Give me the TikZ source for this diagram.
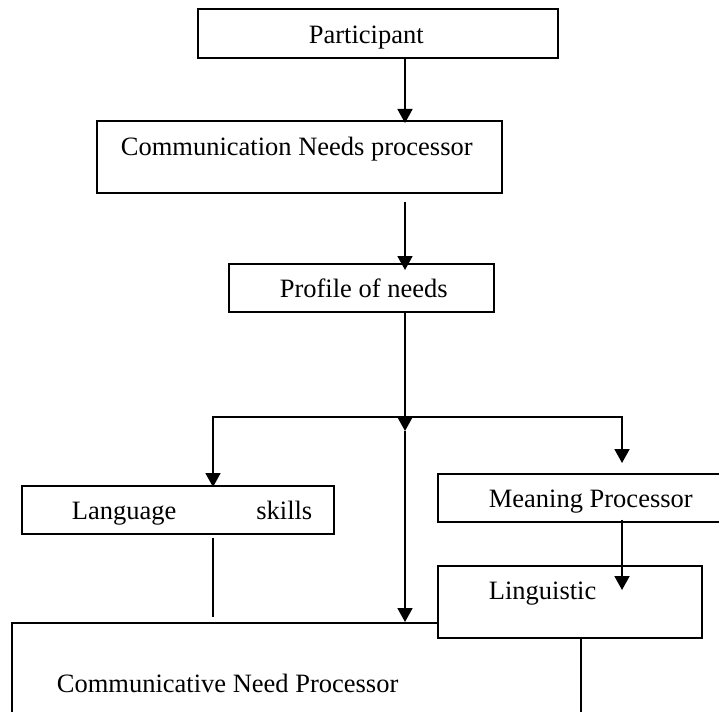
\documentclass[tikz,border=0pt]{standalone}
\usepackage{fontspec}
\setmainfont{Liberation Serif}
\usetikzlibrary{arrows.meta}

\tikzset{
  box/.style={draw, line width=1.7pt, fill=white, inner sep=0pt, anchor=north west,
    align=justify, font=\fontsize{26.5}{32}\selectfont},
  arr/.style={line width=1.8pt, -{Triangle[width=15pt, length=14pt]}},
  link/.style={line width=1.4pt}
}

\begin{document}
\begin{tikzpicture}[x=1pt, y=-1pt]

  \useasboundingbox (0,0) rectangle (719,711);
  \clip (0,0) rectangle (719,711);

  % Top chain of processors
  \node[box, text width=360pt, text height=35pt, text depth=14pt] (part) at (197,8) {\hspace*{111pt}Participant};
  \node[box, text width=405pt, text height=35pt, text depth=37pt] (comm) at (96,120) {\hspace*{24pt}Communication Needs processor};
  \node[box, text width=265pt, text height=34pt, text depth=14pt] (prof) at (228,263) {\hspace*{51pt}Profile of needs};

  % Branch boxes
  \node[box, text width=312pt, text height=34pt, text depth=14pt] (lang) at (21,485) {\hspace*{50pt}Language\hspace{80pt}skills};
  \node[box, text width=300pt, text height=34pt, text depth=14pt] (mean) at (437,473) {\hspace*{51pt}Meaning Processor};

  % Bottom box (runs off the page), Linguistic sits on top of it
  \node[box, text width=569pt, text height=70pt, text depth=90pt] (cnp) at (11,622) {\hspace*{45pt}Communicative Need Processor};
  \node[box, text width=264pt, text height=34pt, text depth=38pt] (ling) at (437,565) {\hspace*{51pt}Linguistic};

  % Branch points
  \coordinate (junc) at (405,417);
  \coordinate (split) at (405,431);
  \coordinate (lbranch) at (213,0);
  \coordinate (rtip) at (622,463);
  \coordinate (ltip) at (622,590);

  % Arrows down the trunk
  \draw[arr, shorten >=-3pt] (part.south -| junc) -- (comm.north -| junc);
  \draw[arr, shorten <=8pt, shorten >=-7pt] (comm.south -| junc) -- (prof.north -| junc);
  \draw[arr] (prof.south -| junc) -- (split);
  \draw[arr] (split) -- (cnp.north -| junc);

  % Side branches
  \draw[arr, shorten >=-2pt] (junc) -| (lang.north -| lbranch);
  \draw[arr] (junc) -| (rtip);
  \draw[link, shorten <=3pt, shorten >=5pt] (lang.south -| lbranch) -- (cnp.north -| lbranch);
  \draw[arr, shorten <=-3pt] (mean.south -| rtip) -- (ltip);

\end{tikzpicture}
\end{document}
